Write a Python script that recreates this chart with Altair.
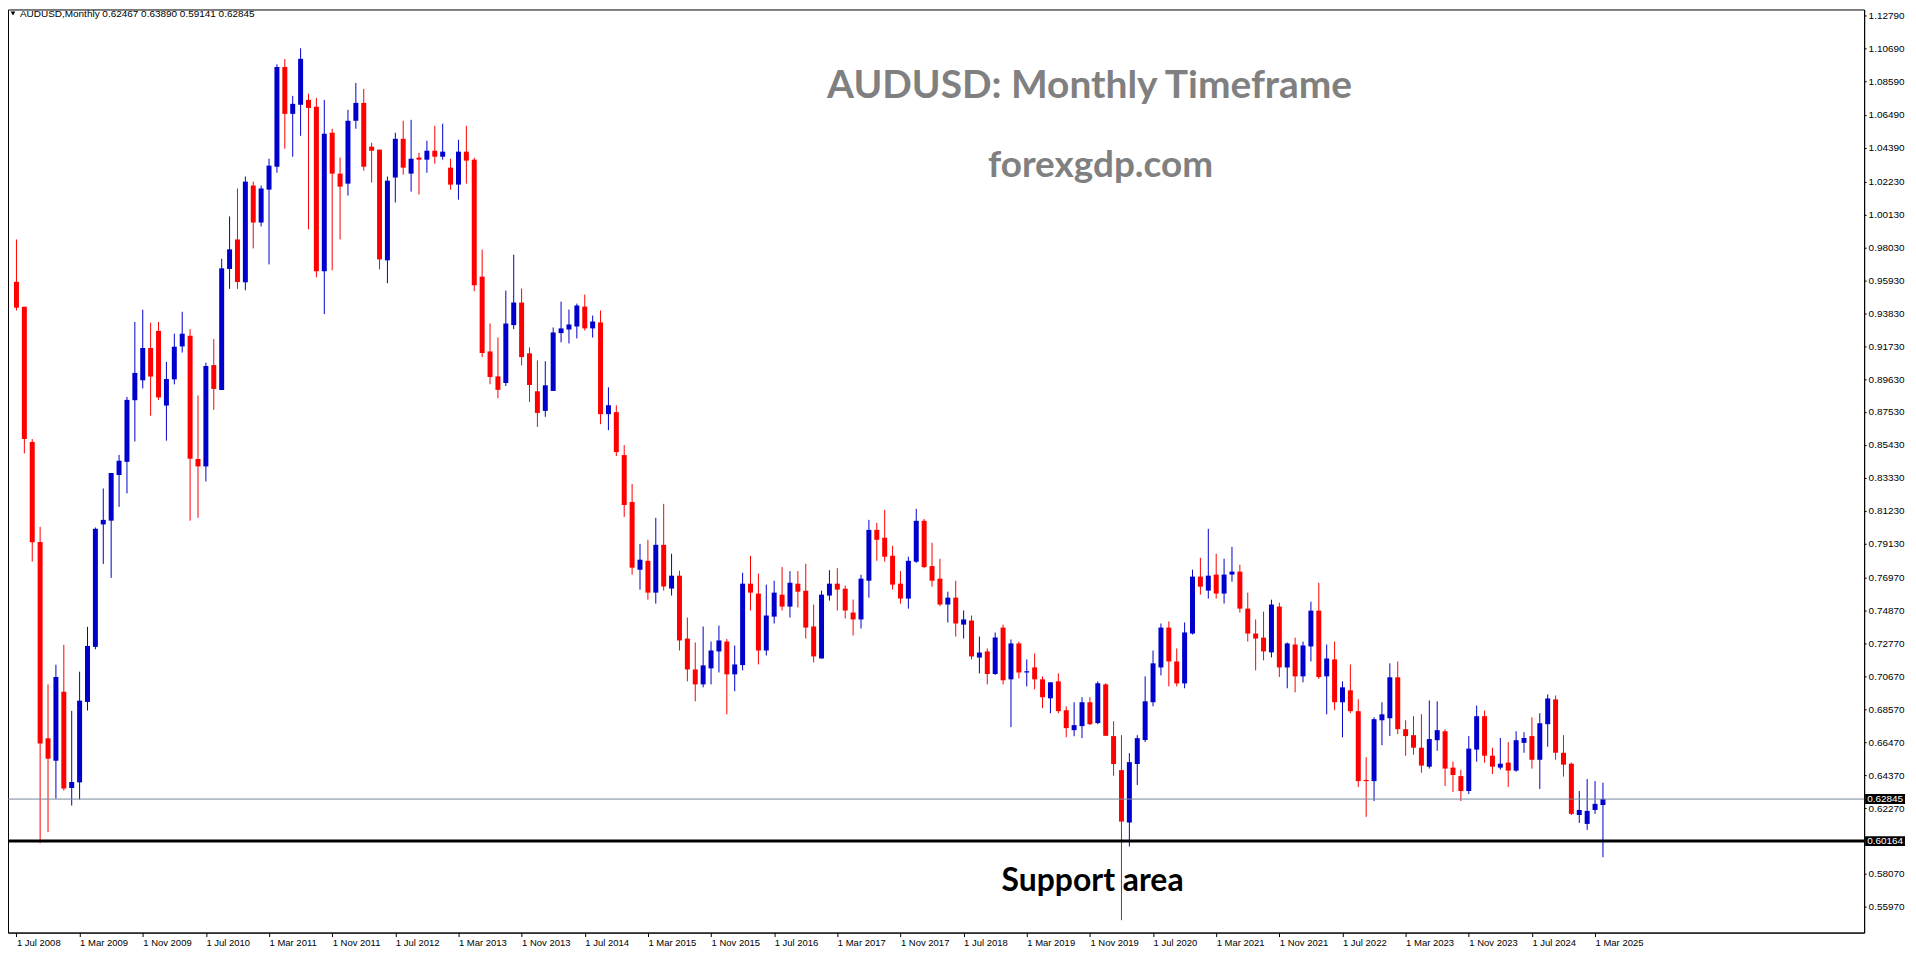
import json
import altair as alt
import pandas as pd

# ---------------- data (monthly AUDUSD candles, Jul 2008 .. Apr 2025) ----------------
first_month = "2008-07"

opens = [
    0.9583, 0.9424, 0.8562, 0.7924, 0.6672, 0.6529,
    0.6969, 0.6355, 0.6391, 0.6904, 0.7255, 0.8036, 0.8060, 0.8351, 0.8435, 0.8828, 0.8955, 0.9161,
    0.9270, 0.8794, 0.8961, 0.9171, 0.9239, 0.8453, 0.8406, 0.9052, 0.8893, 0.9665, 0.9853, 0.9580,
    1.0197, 0.9961, 1.0171, 1.0317, 1.0953, 1.0654, 1.0712, 1.0743, 1.0699, 0.9650, 1.0534, 1.0273,
    1.0209, 1.0610, 1.0724, 1.0445, 1.0426, 0.9720, 1.0248, 1.0495, 1.0273, 1.0375, 1.0362, 1.0419,
    1.0381, 1.0311, 1.0203, 1.0413, 1.0362, 0.9616, 0.9139, 0.8980, 0.8938, 0.9307, 0.9451, 0.9127,
    0.8885, 0.8760, 0.8887, 0.9256, 0.9279, 0.9298, 0.9425, 0.9286, 0.9324, 0.8739, 0.8752, 0.8478,
    0.8179, 0.7747, 0.7804, 0.7601, 0.7906, 0.7627, 0.7709, 0.7308, 0.7111, 0.7016, 0.7118, 0.7226,
    0.7289, 0.7080, 0.7139, 0.7658, 0.7595, 0.7232, 0.7448, 0.7588, 0.7512, 0.7658, 0.7613, 0.7385,
    0.7181, 0.7582, 0.7658, 0.7626, 0.7474, 0.7430, 0.7677, 0.8001, 0.7951, 0.7836, 0.7658, 0.7563,
    0.7798, 0.8059, 0.7770, 0.7690, 0.7525, 0.7569, 0.7397, 0.7423, 0.7187, 0.7226, 0.7082, 0.7378,
    0.7048, 0.7277, 0.7092, 0.7124, 0.7048, 0.6927, 0.7035, 0.6851, 0.6724, 0.6750, 0.6902, 0.6769,
    0.7016, 0.6686, 0.6469, 0.6135, 0.6508, 0.6661, 0.6902, 0.7124, 0.7378, 0.7162, 0.7022, 0.7340,
    0.7703, 0.7614, 0.7716, 0.7595, 0.7716, 0.7735, 0.7499, 0.7340, 0.7314, 0.7220, 0.7512, 0.7124,
    0.7270, 0.7067, 0.7258, 0.7486, 0.7067, 0.7175, 0.6902, 0.6978, 0.6845, 0.6406, 0.6399, 0.6787,
    0.6800, 0.7061, 0.6730, 0.6692, 0.6612, 0.6491, 0.6660, 0.6717, 0.6485, 0.6431, 0.6336, 0.6600,
    0.6813, 0.6561, 0.6485, 0.6517, 0.6466, 0.6643, 0.6686, 0.6535, 0.6762, 0.6920, 0.6580, 0.6510,
    0.6183, 0.6126, 0.6215, 0.62467,
]

highs = [
    0.9853, 0.9424, 0.8580, 0.8021, 0.7016, 0.7141,
    0.7268, 0.6847, 0.7097, 0.7383, 0.8016, 0.8265, 0.8364, 0.8479, 0.8849, 0.9327, 0.9405, 0.9322,
    0.9327, 0.9072, 0.9252, 0.9392, 0.9281, 0.8859, 0.9067, 0.9218, 0.9730, 1.0000, 1.0178, 1.0254,
    1.0222, 1.0197, 1.0368, 1.0970, 1.1004, 1.0769, 1.1072, 1.0782, 1.0756, 1.0743, 1.0559, 1.0375,
    1.0680, 1.0851, 1.0813, 1.0470, 1.0426, 1.0254, 1.0534, 1.0610, 1.0616, 1.0406, 1.0483, 1.0578,
    1.0591, 1.0368, 1.0489, 1.0578, 1.0375, 0.9788, 0.9317, 0.9228, 0.9527, 0.9756, 0.9540, 0.9165,
    0.9082, 0.9076, 0.9292, 0.9457, 0.9406, 0.9444, 0.9502, 0.9368, 0.9400, 0.8910, 0.8796, 0.8542,
    0.8294, 0.7912, 0.7938, 0.8078, 0.8167, 0.7849, 0.7741, 0.7442, 0.7283, 0.7385, 0.7289, 0.7391,
    0.7306, 0.7264, 0.7728, 0.7836, 0.7722, 0.7652, 0.7677, 0.7764, 0.7738, 0.7738, 0.7785, 0.7525,
    0.7613, 0.7744, 0.7757, 0.7645, 0.7557, 0.7715, 0.8065, 0.8046, 0.8129, 0.7900, 0.7738, 0.7830,
    0.8135, 0.8071, 0.7919, 0.7817, 0.7607, 0.7677, 0.7487, 0.7455, 0.7321, 0.7245, 0.7347, 0.7397,
    0.7302, 0.7289, 0.7175, 0.7213, 0.7067, 0.7029, 0.7086, 0.6876, 0.6902, 0.6934, 0.6934, 0.7035,
    0.7023, 0.6781, 0.6692, 0.6577, 0.6692, 0.7067, 0.7232, 0.7404, 0.7417, 0.7245, 0.7411, 0.7747,
    0.7823, 0.8008, 0.7849, 0.7817, 0.7893, 0.7779, 0.7601, 0.7430, 0.7480, 0.7556, 0.7537, 0.7283,
    0.7314, 0.7289, 0.7543, 0.7664, 0.7270, 0.7289, 0.7035, 0.7143, 0.6921, 0.6552, 0.6806, 0.6902,
    0.7150, 0.7162, 0.6787, 0.6813, 0.6826, 0.6913, 0.6907, 0.6730, 0.6523, 0.6471, 0.6686, 0.6881,
    0.6849, 0.6612, 0.6674, 0.6648, 0.6717, 0.6711, 0.6806, 0.6832, 0.6952, 0.6945, 0.6692, 0.6517,
    0.6336, 0.6412, 0.6399, 0.63890,
]

lows = [
    0.9400, 0.8489, 0.7799, 0.6003, 0.6074, 0.6287,
    0.6339, 0.6243, 0.6282, 0.6849, 0.7240, 0.7784, 0.7695, 0.8148, 0.8234, 0.8565, 0.8903, 0.8729,
    0.8830, 0.8570, 0.8929, 0.9132, 0.8060, 0.8078, 0.8310, 0.8766, 0.8893, 0.9538, 0.9538, 0.9529,
    0.9796, 0.9936, 0.9694, 1.0279, 1.0432, 1.0381, 1.0514, 0.9917, 0.9612, 0.9377, 0.9656, 0.9853,
    1.0133, 1.0559, 1.0292, 1.0216, 0.9663, 0.9574, 1.0089, 1.0266, 1.0158, 1.0140, 1.0279, 1.0336,
    1.0362, 1.0171, 1.0107, 1.0209, 0.9523, 0.9103, 0.8930, 0.8841, 0.8919, 0.9281, 0.9050, 0.8817,
    0.8658, 0.8722, 0.8887, 0.9197, 0.9190, 0.9222, 0.9273, 0.9228, 0.8675, 0.8637, 0.8472, 0.8084,
    0.7715, 0.7620, 0.7556, 0.7531, 0.7614, 0.7582, 0.7232, 0.7035, 0.6908, 0.6997, 0.7016, 0.7092,
    0.6825, 0.6972, 0.7105, 0.7487, 0.7143, 0.7200, 0.7404, 0.7487, 0.7442, 0.7506, 0.7308, 0.7156,
    0.7181, 0.7550, 0.7487, 0.7436, 0.7328, 0.7372, 0.7569, 0.7804, 0.7798, 0.7620, 0.7531, 0.7499,
    0.7791, 0.7757, 0.7639, 0.7515, 0.7410, 0.7321, 0.7308, 0.7175, 0.7086, 0.7016, 0.7076, 0.7016,
    0.6743, 0.7054, 0.7003, 0.6984, 0.6864, 0.6832, 0.6832, 0.6679, 0.6685, 0.6673, 0.6756, 0.6762,
    0.6688, 0.6433, 0.5512, 0.5982, 0.6374, 0.6648, 0.6876, 0.7073, 0.7003, 0.7003, 0.6991, 0.7334,
    0.7588, 0.7563, 0.7563, 0.7531, 0.7671, 0.7474, 0.7289, 0.7105, 0.7169, 0.7188, 0.7063, 0.6991,
    0.6965, 0.7029, 0.7162, 0.7050, 0.6825, 0.6851, 0.6679, 0.6832, 0.6361, 0.6171, 0.6272, 0.6628,
    0.6686, 0.6698, 0.6561, 0.6568, 0.6453, 0.6479, 0.6593, 0.6368, 0.6329, 0.6272, 0.6317, 0.6523,
    0.6517, 0.6444, 0.6472, 0.6362, 0.6459, 0.6580, 0.6479, 0.6349, 0.6618, 0.6535, 0.6428, 0.6183,
    0.6132, 0.6088, 0.6190, 0.59141,
]

closes = [
    0.9418, 0.8580, 0.7922, 0.6639, 0.6542, 0.7063,
    0.6352, 0.6394, 0.6912, 0.7261, 0.8008, 0.8065, 0.8364, 0.8442, 0.8830, 0.9002, 0.9161, 0.8979,
    0.8846, 0.8963, 0.9169, 0.9252, 0.8455, 0.8406, 0.9046, 0.8900, 0.9669, 0.9790, 0.9582, 1.0222,
    0.9961, 1.0178, 1.0324, 1.0953, 1.0654, 1.0718, 1.1005, 1.0692, 0.9650, 1.0527, 1.0273, 1.0190,
    1.0610, 1.0724, 1.0317, 1.0419, 0.9726, 1.0228, 1.0495, 1.0311, 1.0368, 1.0362, 1.0419, 1.0381,
    1.0413, 1.0203, 1.0413, 1.0356, 0.9561, 0.9129, 0.8976, 0.8894, 0.9317, 0.9451, 0.9103, 0.8925,
    0.8747, 0.8923, 0.9260, 0.9286, 0.9311, 0.9432, 0.9286, 0.9330, 0.8739, 0.8796, 0.8497, 0.8160,
    0.7760, 0.7811, 0.7601, 0.7906, 0.7640, 0.7709, 0.7296, 0.7111, 0.7016, 0.7137, 0.7232, 0.7296,
    0.7080, 0.7143, 0.7658, 0.7601, 0.7232, 0.7455, 0.7601, 0.7512, 0.7664, 0.7607, 0.7378, 0.7194,
    0.7588, 0.7658, 0.7620, 0.7487, 0.7430, 0.7690, 0.8001, 0.7938, 0.7830, 0.7652, 0.7563, 0.7804,
    0.8059, 0.7764, 0.7677, 0.7525, 0.7569, 0.7404, 0.7430, 0.7194, 0.7219, 0.7082, 0.7315, 0.7042,
    0.7277, 0.7092, 0.7099, 0.7048, 0.6934, 0.7029, 0.6845, 0.6737, 0.6756, 0.6902, 0.6762, 0.7023,
    0.6688, 0.6508, 0.6141, 0.6520, 0.6673, 0.6908, 0.7150, 0.7378, 0.7162, 0.7022, 0.7347, 0.7703,
    0.7639, 0.7709, 0.7595, 0.7716, 0.7735, 0.7499, 0.7340, 0.7308, 0.7226, 0.7525, 0.7124, 0.7277,
    0.7067, 0.7264, 0.7486, 0.7063, 0.7181, 0.6902, 0.6997, 0.6845, 0.6399, 0.6399, 0.6794, 0.6825,
    0.7061, 0.6730, 0.6686, 0.6612, 0.6498, 0.6667, 0.6724, 0.6479, 0.6438, 0.6336, 0.6606, 0.6813,
    0.6561, 0.6491, 0.6510, 0.6466, 0.6660, 0.6674, 0.6535, 0.6768, 0.6926, 0.6580, 0.6504, 0.6190,
    0.6215, 0.6209, 0.6254, 0.62845,
]

x_tick_idx = list(range(0, 201, 8))
x_tick_labels = [
    "1 Jul 2008", "1 Mar 2009", "1 Nov 2009", "1 Jul 2010", "1 Mar 2011", "1 Nov 2011",
    "1 Jul 2012", "1 Mar 2013", "1 Nov 2013", "1 Jul 2014", "1 Mar 2015", "1 Nov 2015",
    "1 Jul 2016", "1 Mar 2017", "1 Nov 2017", "1 Jul 2018", "1 Mar 2019", "1 Nov 2019",
    "1 Jul 2020", "1 Mar 2021", "1 Nov 2021", "1 Jul 2022", "1 Mar 2023", "1 Nov 2023",
    "1 Jul 2024", "1 Mar 2025",
]

y_tick_values = [
    1.12790, 1.10690, 1.08590, 1.06490, 1.04390, 1.02230, 1.00130, 0.98030, 0.95930,
    0.93830, 0.91730, 0.89630, 0.87530, 0.85430, 0.83330, 0.81230, 0.79130, 0.76970,
    0.74870, 0.72770, 0.70670, 0.68570, 0.66470, 0.64370, 0.62270, 0.58070, 0.55970,
]

last_price = 0.62845
support_price = 0.60164

title_text = "AUDUSD: Monthly Timeframe"
site_text = "forexgdp.com"
support_text = "Support area"
symbol_text = "AUDUSD,Monthly"

# ---------------- layout ----------------
W, H = 1862, 926
x_lo, x_hi = -0.4397, 233.46
y_lo, y_hi = 0.54332, 1.13197

label_font = "Liberation Sans"
title_font = "Lato"

df = pd.DataFrame({
    "idx": list(range(len(opens))),
    "open": opens, "high": highs, "low": lows, "close": closes,
})
df["dir"] = ["up" if c >= o else "down" for o, c in zip(opens, closes)]

xscale = alt.Scale(domain=[x_lo, x_hi], nice=False, zero=False)
yscale = alt.Scale(domain=[y_lo, y_hi], nice=False, zero=False)

x_label_expr = f"{json.dumps(x_tick_labels)}[indexof({json.dumps(x_tick_idx)}, datum.value)]"

xaxis = alt.Axis(
    values=x_tick_idx, labelExpr=x_label_expr, title=None, grid=False,
    tickSize=4, tickColor="black", domainColor="black", labelColor="black",
    labelFont=label_font, labelFontSize=9.5, labelAlign="left", labelBaseline="top",
    labelPadding=1, labelFlush=False, labelOverlap=False, labelBound=False,
)
yaxis = alt.Axis(
    values=y_tick_values, format=".5f", orient="right", title=None, grid=False,
    tickSize=2, tickColor="black", domainColor="black", labelColor="black",
    labelFont=label_font, labelFontSize=10, labelAlign="left", labelPadding=2,
    labelFlush=False, labelOverlap=False, labelBound=False,
)

X = alt.X("idx:Q", scale=xscale, axis=xaxis)


def Y(field):
    return alt.Y(f"{field}:Q", scale=yscale, axis=yaxis)


color = alt.Color(
    "dir:N",
    scale=alt.Scale(domain=["up", "down"], range=["#0000CD", "#FF0000"]),
    legend=None,
)

base = alt.Chart(df)
wicks = base.mark_rule(strokeWidth=1).encode(x=X, y=Y("low"), y2=alt.Y2("high"), color=color)
bodies = base.mark_bar(size=5).encode(x=X, y=Y("open"), y2=alt.Y2("close"), color=color)

bid_line = alt.Chart(pd.DataFrame({"price": [last_price]})).mark_rule(
    color="#778899", strokeWidth=1
).encode(y=Y("price"))
support_line = alt.Chart(pd.DataFrame({"price": [support_price]})).mark_rule(
    color="black", strokeWidth=3
).encode(y=Y("price"))

tags_df = pd.DataFrame({
    "price": [last_price, support_price],
    "label": [f"{last_price:.5f}", f"{support_price:.5f}"],
})
tag_boxes = alt.Chart(tags_df).mark_point(
    shape="M-1,-0.25L1,-0.25L1,0.25L-1,0.25Z", size=1600, filled=True,
    color="black", opacity=1, strokeWidth=0,
).encode(x=alt.value(W + 21), y=Y("price"))
tag_text = alt.Chart(tags_df).mark_text(
    align="left", baseline="middle", color="white", font=label_font, fontSize=10,
).encode(x=alt.value(W + 3), y=Y("price"), text="label:N")

title = alt.Chart(pd.DataFrame({"t": [title_text]})).mark_text(
    font=title_font, fontWeight="bold", fontSize=39, color="#808080",
    align="center", baseline="alphabetic",
).encode(x=alt.value(1085), y=alt.value(89), text="t:N")
site = alt.Chart(pd.DataFrame({"t": [site_text]})).mark_text(
    font=title_font, fontWeight="bold", fontSize=37, color="#808080",
    align="center", baseline="alphabetic",
).encode(x=alt.value(1096), y=alt.value(168), text="t:N")
support_label = alt.Chart(pd.DataFrame({"t": [support_text]})).mark_text(
    font=title_font, fontWeight="bold", fontSize=32, color="black",
    align="center", baseline="alphabetic",
).encode(x=alt.value(1088), y=alt.value(884), text="t:N")

header_str = (
    f"{symbol_text}  {opens[-1]:.5f} {highs[-1]:.5f} {lows[-1]:.5f} {closes[-1]:.5f}"
)
header = alt.Chart(pd.DataFrame({"t": [header_str]})).mark_text(
    font=label_font, fontSize=10, color="black", align="left", baseline="alphabetic",
).encode(x=alt.value(12), y=alt.value(8), text="t:N")
tri = alt.Chart(pd.DataFrame({"t": [0]})).mark_point(
    shape="triangle-down", size=22, filled=True, color="black", opacity=1,
).encode(x=alt.value(5), y=alt.value(4))

chart = alt.layer(
    wicks, bodies, bid_line, support_line, tag_boxes, tag_text,
    title, site, support_label, header, tri,
).properties(
    width=W, height=H,
    padding={"left": 0, "top": 0, "right": 44, "bottom": 14},
    autosize=alt.AutoSizeParams(type="none"),
).configure(background="white").configure_view(stroke="black", strokeWidth=1)

chart.save("out.html", embed_options={"renderer": "svg", "actions": False})
